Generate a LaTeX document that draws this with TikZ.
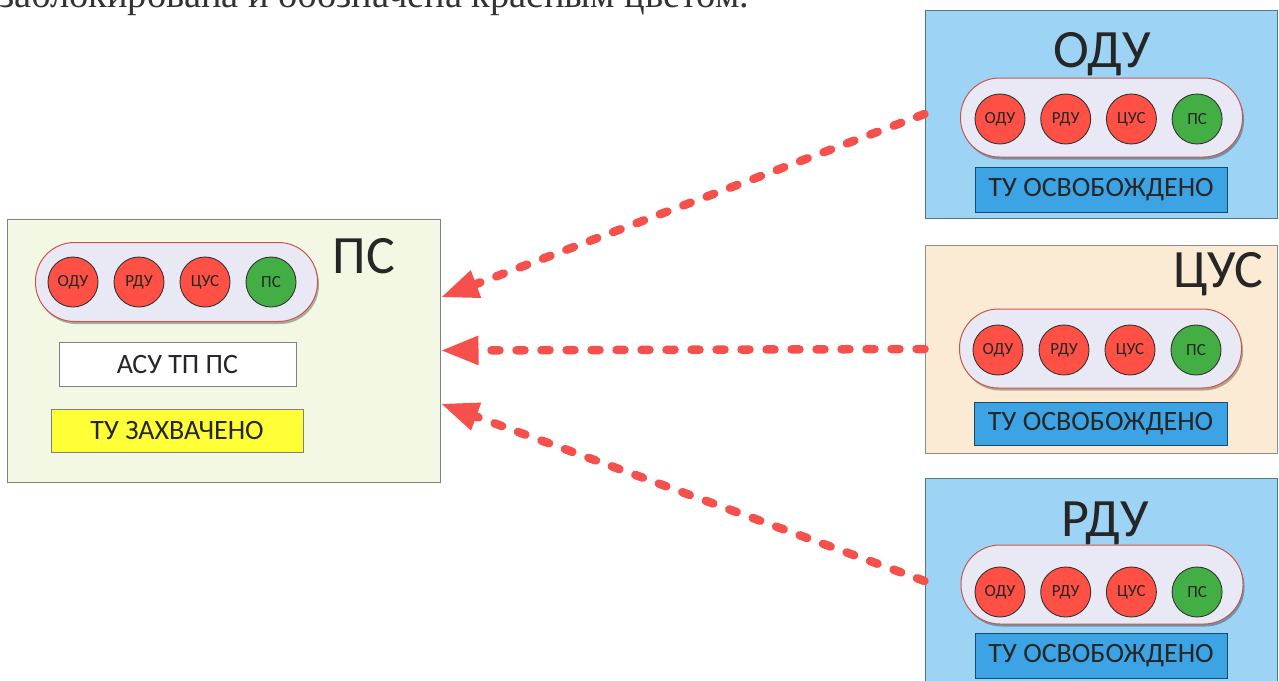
\documentclass[tikz,border=0pt]{standalone}
\usepackage{fontspec}
\setmainfont{Carlito}
\newfontfamily\serifru{Liberation Serif}
\usetikzlibrary{arrows.meta,shadows}
\definecolor{psfill}{HTML}{F3F8E4}
\definecolor{bluefill}{HTML}{9DD4F5}
\definecolor{peachfill}{HTML}{FBEBD4}
\definecolor{pillfill}{HTML}{E9E9F5}
\definecolor{pillline}{HTML}{C8564C}
\definecolor{lred}{HTML}{FF5045}
\definecolor{lgreen}{HTML}{43AE43}
\definecolor{statblue}{HTML}{3CA4E4}
\definecolor{statyellow}{HTML}{FFFF38}
\definecolor{arrred}{HTML}{F5504C}
\definecolor{txt}{HTML}{262626}
\begin{document}
\begin{tikzpicture}[x=1pt,y=-1pt,
  panel/.style={draw=#1, line width=1pt, inner sep=0pt, minimum width=352pt, minimum height=208pt},
  pill/.style={draw=pillline, fill=pillfill, line width=1pt, rounded corners=39pt, inner sep=0pt,
    minimum width=282pt, minimum height=79pt,
    drop shadow={shadow xshift=1.5pt, shadow yshift=-2.5pt, opacity=0.3, fill=black}},
  lamp/.style={circle, draw=black!80, line width=0.9pt, minimum size=50pt, inner sep=0pt,
    font=\fontsize{17}{17}\selectfont, text=txt},
  stat/.style={draw=#1, line width=1pt, inner sep=0pt, minimum height=44pt,
    font=\fontsize{28}{28}\selectfont, text=txt},
  title/.style={anchor=base, font=\fontsize{54}{54}\selectfont, text=txt, inner sep=0pt},
  conn/.style={draw=arrred, line width=8.5pt, line cap=round, dash pattern=on 8pt off 17pt,
    -{Triangle[length=38pt,width=27pt,line cap=butt]}, shorten >=0pt}
]
\clip (0,0) rectangle (1279,680);
\useasboundingbox (0,0) rectangle (1279,680);

% cut-off caption line at the top
\node[anchor=base west, inner sep=0pt, font=\serifru\fontsize{38.5}{40}\selectfont, text=black!80] (cap) at (-1,8) {заблокирована и обозначена красным цветом.};

% ---------- ПС ----------
\node[panel=black!50, fill=psfill, minimum width=433pt, minimum height=263pt] (psB) at (223.5,350.5) {};
\node[pill] (psP) at (176.5,282) {};
\foreach \t/\c [count=\i] in {ОДУ/lred,РДУ/lred,ЦУС/lred,ПС/lgreen}
  \node[lamp, fill=\c] (ps\i) at ({73+66*(\i-1)},282) {\t};
\node[title] (psT) at (364,273) {ПС};
\node[stat=black!50, fill=white, minimum width=237pt] (psA) at (177.5,364.5) {АСУ ТП ПС};
\node[stat=black!50, fill=statyellow, minimum width=252pt, minimum height=43pt] (psS) at (177,430.5) {ТУ ЗАХВАЧЕНО};

% ---------- ОДУ ----------
\node[panel=black!45!bluefill, fill=bluefill] (oduB) at (1101,114) {};
\node[title] (oduT) at (1102,67) {ОДУ};
\node[pill] (oduP) at (1101.5,117.5) {};
\foreach \t/\c [count=\i] in {ОДУ/lred,РДУ/lred,ЦУС/lred,ПС/lgreen}
  \node[lamp, fill=\c] (odu\i) at ({1000+65.7*(\i-1)},119) {\t};
\node[stat=black!55!statblue, fill=statblue, minimum width=252pt, minimum height=45pt] (oduS) at (1101,189.5) {ТУ ОСВОБОЖДЕНО};

% ---------- ЦУС ----------
\node[panel=black!45, fill=peachfill] (cusB) at (1101,349) {};
\node[title] (cusT) at (1218,287) {ЦУС};
\node[pill] (cusP) at (1100.5,348.5) {};
\foreach \t/\c [count=\i] in {ОДУ/lred,РДУ/lred,ЦУС/lred,ПС/lgreen}
  \node[lamp, fill=\c] (cus\i) at ({998+66*(\i-1)},350) {\t};
\node[stat=black!55!statblue, fill=statblue, minimum width=253pt, minimum height=43pt] (cusS) at (1100.5,423.5) {ТУ ОСВОБОЖДЕНО};

% ---------- РДУ ----------
\node[panel=black!45!bluefill, fill=bluefill, minimum height=206pt] (rduB) at (1101,581) {};
\node[title] (rduT) at (1105,536) {РДУ};
\node[pill] (rduP) at (1102,584.5) {};
\foreach \t/\c [count=\i] in {ОДУ/lred,РДУ/lred,ЦУС/lred,ПС/lgreen}
  \node[lamp, fill=\c] (rdu\i) at ({1000+65.7*(\i-1)},592) {\t};
\node[stat=black!55!statblue, fill=statblue, minimum width=252pt, minimum height=45pt] (rduS) at (1101,655.5) {ТУ ОСВОБОЖДЕНО};

% ---------- connectors ----------
\draw[conn] (oduB.west) -- ([yshift=53pt]psB.east);
\draw[conn] (cusB.west) -- (psB.east);
\draw[conn] (rduB.west) -- ([yshift=-53pt]psB.east);
\end{tikzpicture}
\end{document}
